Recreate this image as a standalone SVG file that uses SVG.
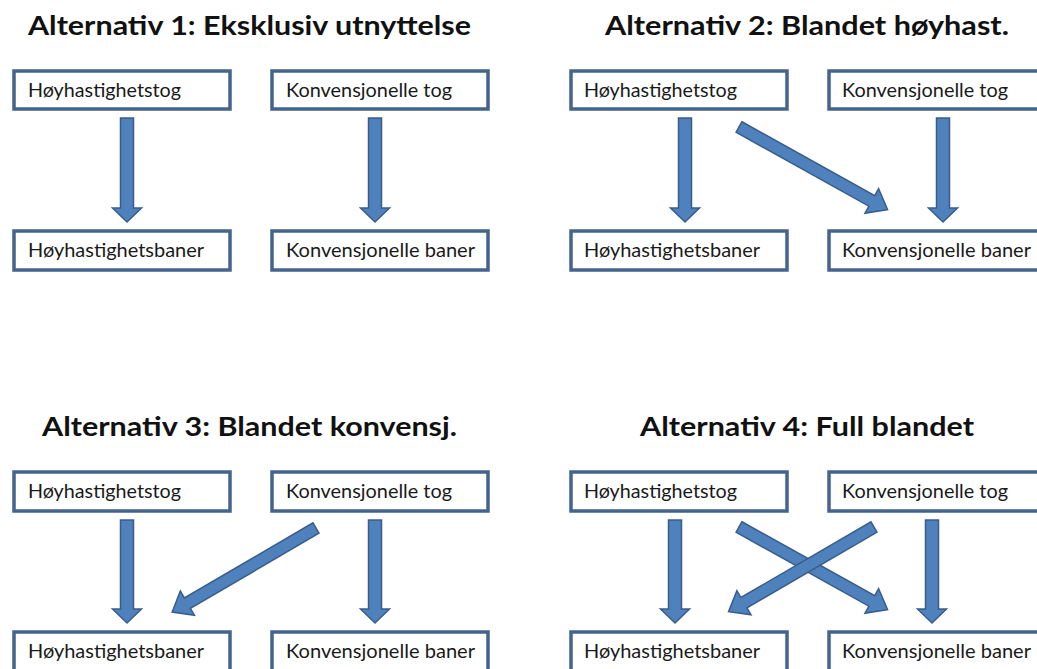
<svg xmlns="http://www.w3.org/2000/svg" xmlns:xlink="http://www.w3.org/1999/xlink" width="1037" height="669" viewBox="0 0 1037 669">
<style>
.title{font-family:Lato,"Open Sans","Liberation Sans",sans-serif;font-weight:bold;font-size:27px;fill:#111}
.box{fill:#fff;stroke:#44648E;stroke-width:3.5}
.lbl{font-family:Lato,"Open Sans","Liberation Sans",sans-serif;font-size:19px;fill:#1a1a1a}
.arr{fill:#4F81BD;stroke:#385D8A;stroke-width:1.5;stroke-linejoin:miter}
</style>
<defs>
<path id="v" d="M-6.5,0 H6.5 V90 H14.5 L0,104 L-14.5,90 H-6.5 Z"/>
<path id="d" d="M0,-6 H152 V-14 L170,0 L152,14 V6 H0 Z"/>
</defs>
<rect width="1037" height="669" fill="#fff"/>
<g id="titles">
<text class="title" x="28" y="35" textLength="443" lengthAdjust="spacingAndGlyphs">Alternativ 1: Eksklusiv utnyttelse</text>
<text class="title" x="605" y="35" textLength="404" lengthAdjust="spacingAndGlyphs">Alternativ 2: Blandet høyhast.</text>
<text class="title" x="42" y="436" textLength="415" lengthAdjust="spacingAndGlyphs">Alternativ 3: Blandet konvensj.</text>
<text class="title" x="640" y="436" textLength="334" lengthAdjust="spacingAndGlyphs">Alternativ 4: Full blandet</text>
</g>
<g id="p1-hst"><rect class="box" x="14" y="71" width="216" height="38"/><text class="lbl" x="28" y="97" textLength="153" lengthAdjust="spacingAndGlyphs">Høyhastighetstog</text></g>
<g id="p1-kt"><rect class="box" x="272" y="71" width="216" height="38"/><text class="lbl" x="286" y="97" textLength="166" lengthAdjust="spacingAndGlyphs">Konvensjonelle tog</text></g>
<g id="p1-hsb"><rect class="box" x="14" y="231" width="216" height="39"/><text class="lbl" x="28" y="257" textLength="176" lengthAdjust="spacingAndGlyphs">Høyhastighetsbaner</text></g>
<g id="p1-kb"><rect class="box" x="272" y="231" width="216" height="39"/><text class="lbl" x="286" y="257" textLength="189" lengthAdjust="spacingAndGlyphs">Konvensjonelle baner</text></g>
<g id="p2-hst"><rect class="box" x="571" y="71" width="216" height="38"/><text class="lbl" x="584" y="97" textLength="153" lengthAdjust="spacingAndGlyphs">Høyhastighetstog</text></g>
<g id="p2-kt"><rect class="box" x="829" y="71" width="216" height="38"/><text class="lbl" x="842" y="97" textLength="166" lengthAdjust="spacingAndGlyphs">Konvensjonelle tog</text></g>
<g id="p2-hsb"><rect class="box" x="571" y="231" width="216" height="39"/><text class="lbl" x="584" y="257" textLength="176" lengthAdjust="spacingAndGlyphs">Høyhastighetsbaner</text></g>
<g id="p2-kb"><rect class="box" x="829" y="231" width="216" height="39"/><text class="lbl" x="842" y="257" textLength="189" lengthAdjust="spacingAndGlyphs">Konvensjonelle baner</text></g>
<g id="p3-hst"><rect class="box" x="14" y="472" width="216" height="39"/><text class="lbl" x="28" y="498" textLength="153" lengthAdjust="spacingAndGlyphs">Høyhastighetstog</text></g>
<g id="p3-kt"><rect class="box" x="272" y="472" width="216" height="39"/><text class="lbl" x="286" y="498" textLength="166" lengthAdjust="spacingAndGlyphs">Konvensjonelle tog</text></g>
<g id="p3-hsb"><rect class="box" x="14" y="632" width="216" height="39"/><text class="lbl" x="28" y="658" textLength="176" lengthAdjust="spacingAndGlyphs">Høyhastighetsbaner</text></g>
<g id="p3-kb"><rect class="box" x="272" y="632" width="216" height="39"/><text class="lbl" x="286" y="658" textLength="189" lengthAdjust="spacingAndGlyphs">Konvensjonelle baner</text></g>
<g id="p4-hst"><rect class="box" x="571" y="472" width="216" height="39"/><text class="lbl" x="584" y="498" textLength="153" lengthAdjust="spacingAndGlyphs">Høyhastighetstog</text></g>
<g id="p4-kt"><rect class="box" x="829" y="472" width="216" height="39"/><text class="lbl" x="842" y="498" textLength="166" lengthAdjust="spacingAndGlyphs">Konvensjonelle tog</text></g>
<g id="p4-hsb"><rect class="box" x="571" y="632" width="216" height="39"/><text class="lbl" x="584" y="658" textLength="176" lengthAdjust="spacingAndGlyphs">Høyhastighetsbaner</text></g>
<g id="p4-kb"><rect class="box" x="829" y="632" width="216" height="39"/><text class="lbl" x="842" y="658" textLength="189" lengthAdjust="spacingAndGlyphs">Konvensjonelle baner</text></g>
<g id="connectors">
<use class="arr" xlink:href="#v" transform="translate(127,118)"/>
<use class="arr" xlink:href="#v" transform="translate(375,118)"/>
<use class="arr" xlink:href="#v" transform="translate(685,118)"/>
<use class="arr" xlink:href="#v" transform="translate(943,118)"/>
<use class="arr" xlink:href="#d" transform="translate(739,127) rotate(29.1)"/>
<use class="arr" xlink:href="#v" transform="translate(127,520) scale(1,0.99)"/>
<use class="arr" xlink:href="#v" transform="translate(375,520) scale(1,0.99)"/>
<use class="arr" xlink:href="#d" transform="translate(316,528) rotate(149.7) scale(0.98,1)"/>
<use class="arr" xlink:href="#v" transform="translate(675,520) scale(1,0.99)"/>
<use class="arr" xlink:href="#v" transform="translate(932,520) scale(1,0.99)"/>
<use class="arr" xlink:href="#d" transform="translate(739,527) rotate(29.1)"/>
<use class="arr" xlink:href="#d" transform="translate(874,527) rotate(149.8) scale(0.99,1)"/>
</g>
</svg>
